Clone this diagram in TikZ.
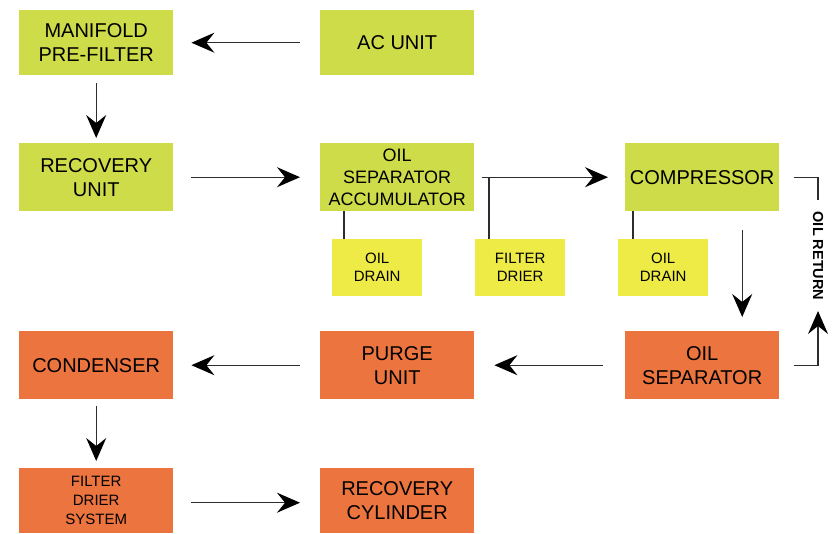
\documentclass[tikz,border=0pt]{standalone}
\usepackage{fontspec}
\setmainfont{Liberation Sans}
\usetikzlibrary{arrows.meta}
\definecolor{limeg}{RGB}{205,220,72}
\definecolor{yelb}{RGB}{238,235,71}
\definecolor{orgb}{RGB}{235,116,63}
\definecolor{linec}{RGB}{45,45,45}
\tikzset{
  x=1pt, y=-1pt,
  bigbox/.style={rectangle, inner sep=0pt, anchor=north west, minimum width=154pt, align=center, text=black,
     font=\fontsize{20}{24}\selectfont},
  gbox/.style={bigbox, fill=limeg},
  obox/.style={bigbox, fill=orgb},
  smallbox/.style={rectangle, inner sep=0pt, anchor=north west, minimum width=90pt, minimum height=57pt, fill=yelb,
     align=center, font=\fontsize{15}{18}\selectfont},
  arr/.style={draw=linec, line width=1.3pt, -{Stealth[length=23pt,width=20pt,inset=8pt,color=black]}},
  ln/.style={draw=linec, line width=1.3pt},
}
\begin{document}
\begin{tikzpicture}
\useasboundingbox (0,0) rectangle (832,533);
% boxes
\node[gbox, minimum height=65pt] (man) at (19,10) {MANIFOLD\\PRE-FILTER};
\node[gbox, minimum height=65pt] (ac) at (320,10) {AC UNIT};
\node[gbox, minimum height=68pt] (rec) at (19,143) {RECOVERY\\UNIT};
\node[gbox, minimum height=68pt, font=\fontsize{18}{22}\selectfont] (osa) at (320,143) {OIL\\SEPARATOR\\ACCUMULATOR};
\node[gbox, minimum height=68pt] (comp) at (625,143) {COMPRESSOR};
\node[smallbox] (od1) at (332,239) {OIL\\DRAIN};
\node[smallbox] (fd) at (475,239) {FILTER\\DRIER};
\node[smallbox] (od2) at (618,239) {OIL\\DRAIN};
\node[obox, minimum height=68pt] (os) at (625,331) {OIL\\SEPARATOR};
\node[obox, minimum height=68pt] (pu) at (320,331) {PURGE\\UNIT};
\node[obox, minimum height=68pt] (cond) at (19,331) {CONDENSER};
\node[obox, minimum height=65pt, font=\fontsize{15}{19}\selectfont] (fds) at (19,468) {FILTER\\DRIER\\SYSTEM};
\node[obox, minimum height=65pt] (rcyl) at (320,468) {RECOVERY\\CYLINDER};
% connectors
\draw[arr] ([xshift=-20pt]ac.west) -- ([xshift=18pt]man.east);
\draw[arr] ([yshift=-8pt]man.south) -- ([yshift=5pt]rec.north);
\draw[arr] ([xshift=18pt]rec.east) -- ([xshift=-20pt]osa.west);
\draw[arr] ([xshift=8pt]osa.east) -- ([xshift=-17pt]comp.west);
\draw[ln] ([xshift=14pt]fd.north west) -- ([xshift=14pt]fd.north west |- osa.east);
\draw[ln] ([xshift=12pt]od1.north west) -- ([xshift=12pt]od1.north west |- osa.south);
\draw[ln] ([xshift=15pt]od2.north west) -- ([xshift=15pt]od2.north west |- comp.south);
\draw[arr] ([xshift=40pt,yshift=-19pt]comp.south) -- ([xshift=40pt,yshift=14pt]os.north);
% oil return
\coordinate (rt) at (818,200);
\coordinate (rb) at (818,311);
\draw[ln] ([xshift=15pt]comp.east) -- (comp.east -| rt) -- (rt);
\draw[arr] ([xshift=15pt]os.east) -- (os.east -| rb) -- (rb);
\node[rotate=-90, font=\bfseries\fontsize{14.5}{16}\selectfont, inner sep=0pt] (oilret) at (818,256) {OIL RETURN};
\draw[arr] ([xshift=-22pt]os.west) -- ([xshift=20pt]pu.east);
\draw[arr] ([xshift=-20pt]pu.west) -- ([xshift=18pt]cond.east);
\draw[arr] ([yshift=-7pt]cond.south) -- ([yshift=7pt]fds.north);
\draw[arr] ([xshift=18pt,yshift=-2pt]fds.east) -- ([xshift=-20pt,yshift=-2pt]rcyl.west);
\end{tikzpicture}
\end{document}
